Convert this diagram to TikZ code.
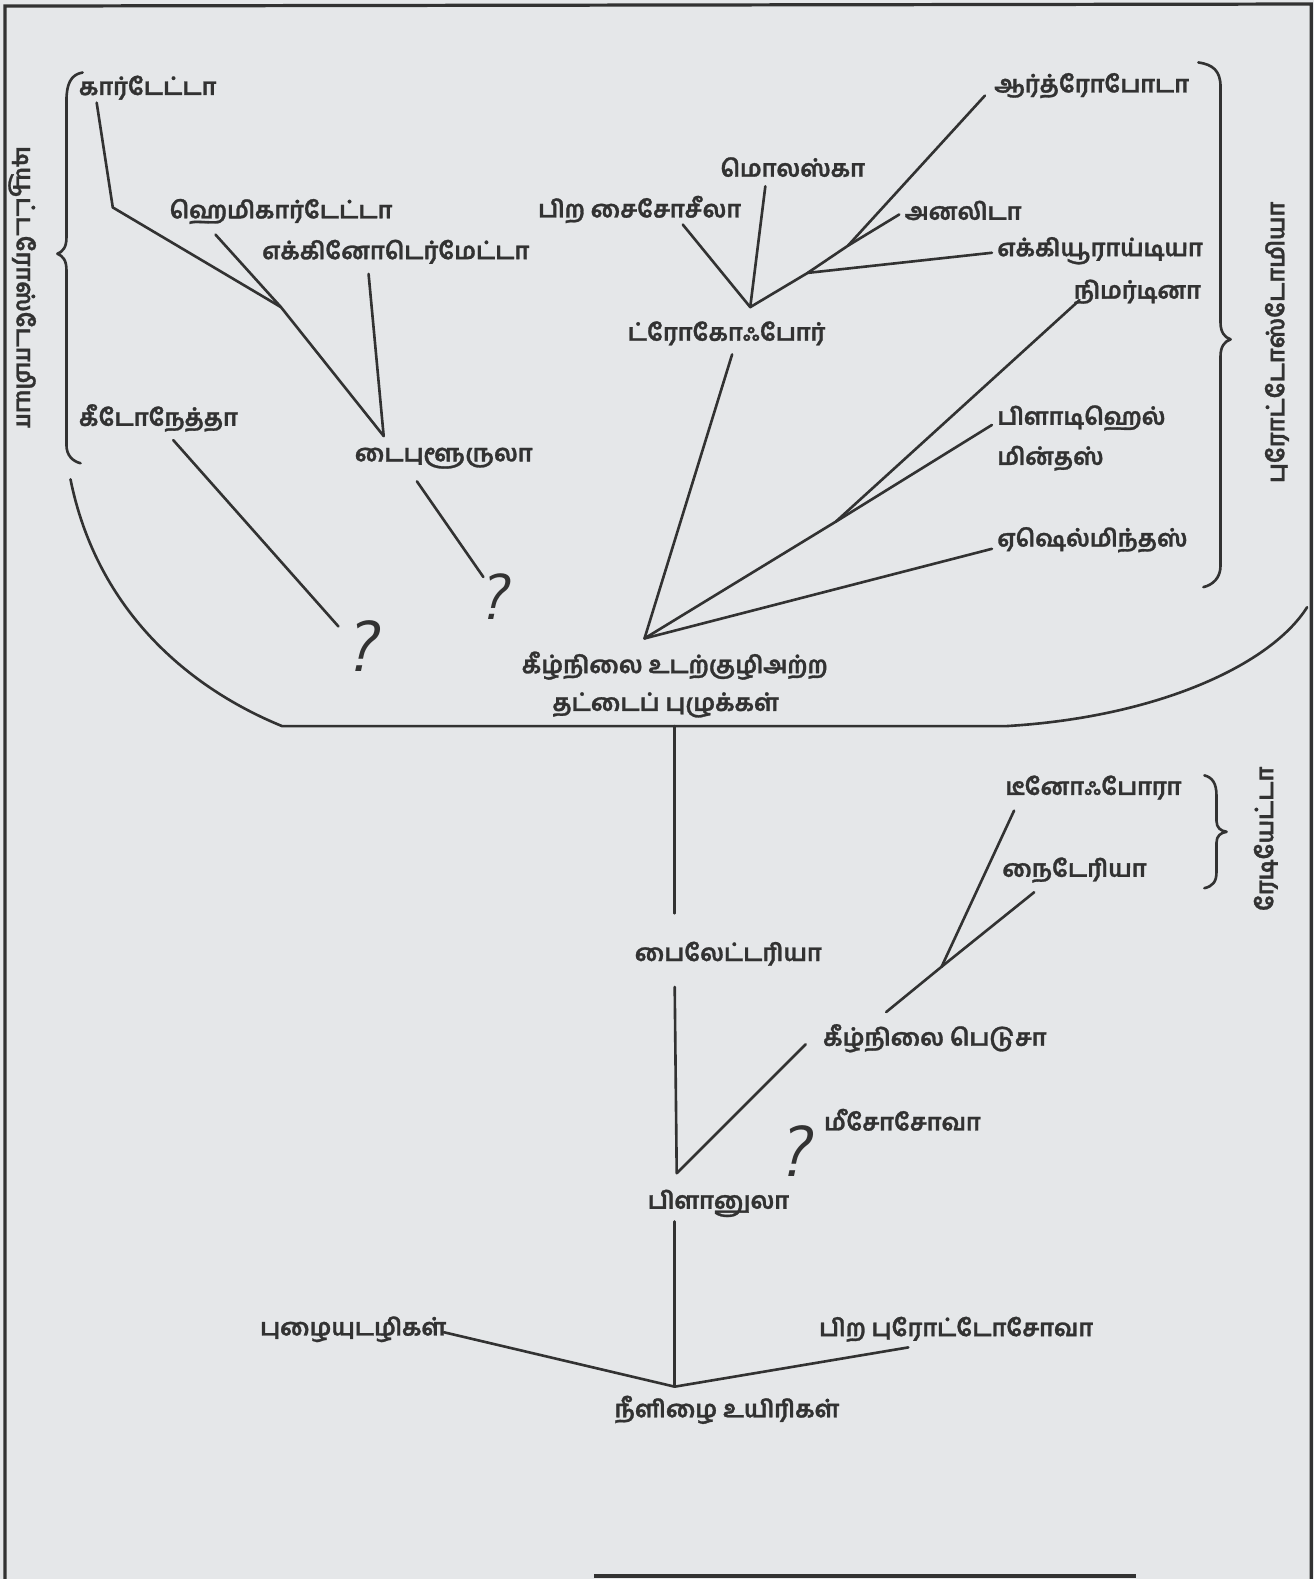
\documentclass[tikz,border=0pt]{standalone}
\usepackage{fontspec}
\newfontfamily\tamil[Script=Tamil,FakeBold=1.2]{Hind Madurai}
\definecolor{bgc}{RGB}{229,231,233}
\definecolor{ink}{RGB}{50,50,50}
\begin{document}
\begin{tikzpicture}[x=0.5pt,y=-0.5pt,
  lab/.style={font=\tamil\bfseries\fontsize{11.8}{14}\selectfont, inner sep=0pt, anchor=west, text=ink},
  labc/.style={lab, anchor=center},
  qm/.style={font=\sffamily\slshape\fontsize{36}{38}\selectfont, inner sep=0pt, text=ink},
  ln/.style={draw=ink, line width=1.3pt, line cap=round, line join=round},
  frame/.style={draw=ink, line width=1.6pt}]
\useasboundingbox (0,0) rectangle (1305,1568);
\fill[bgc] (0,0) rectangle (1305,1568);
% frame
\draw[frame] (5,1568) -- (5,6) -- (1302,4) -- (1302,1568);
\draw[frame] (590,1565) -- (1128,1565);

% ---------- labels ----------
\node[lab] (chor) at (78,87) {கார்டேட்டா};
\node[lab] (hemi) at (168,210) {ஹெமிகார்டேட்டா};
\node[lab] (echi) at (260,250) {எக்கினோடெர்மேட்டா};
\node[lab] (chae) at (78,415) {கீடோநேத்தா};
\node[lab] (dipl) at (352,455) {டைபுளூருலா};
\node[lab] (opsc) at (534,208) {பிற சைசோசீலா};
\node[lab] (moll) at (715,166) {மொலஸ்கா};
\node[lab] (arth) at (987,85) {ஆர்த்ரோபோடா};
\node[lab] (anne) at (898,209) {அனலிடா};
\node[lab] (echu) at (990,249) {எக்கியூராய்டியா};
\node[lab] (neme) at (1066,290) {நிமர்டினா};
\node[lab] (troc) at (623,331) {ட்ரோகோஃபோர்};
\node[lab] (plat) at (990,415) {பிளாடிஹெல்};
\node[lab] (plat2) at (990,455) {மின்தஸ்};
\node[lab] (asch) at (990,536) {ஏஷெல்மிந்தஸ்};
\node[labc] (acoel) at (670,661) {கீழ்நிலை உடற்குழிஅற்ற};
\node[labc] (acoel2) at (661,700) {தட்டைப் புழுக்கள்};
\node[lab] (cten) at (998,782) {டீனோஃபோரா};
\node[lab] (cnid) at (995,864) {நைடேரியா};
\node[lab] (bila) at (630,947) {பைலேட்டரியா};
\node[lab] (lmed) at (817,1031) {கீழ்நிலை பெடுசா};
\node[lab] (meso) at (818,1112) {மீசோசோவா};
\node[lab] (plan) at (643,1195) {பிளானுலா};
\node[lab] (pori) at (258,1320) {புழையுடழிகள்};
\node[lab] (othp) at (813,1320) {பிற புரோட்டோசோவா};
\node[labc] (flag) at (722,1400) {நீளிழை உயிரிகள்};
\node[qm] (q1) at (357,642) {?};
\node[qm,scale=0.9] (q2) at (489,592) {?};
\node[qm] (q3) at (787,1143) {?};
% vertical group labels
\node[labc, rotate=-90] (deut) at (22,285) {டியூட்டரோஸ்டோமியா};
\node[labc, rotate=90] (prot) at (1268,340) {புரோட்டோஸ்டோமியா};
\node[labc, rotate=90] (radi) at (1257,833) {ரேடியேட்டா};

% ---------- coordinates ----------
\coordinate (c1) at (96,102);
\coordinate (c2) at (112,206);
\coordinate (j1) at (279,305);
\coordinate (dv) at (381,433);
\coordinate (h1) at (214,233);
\coordinate (e1) at (366,272);
\coordinate (k1) at (172,437);
\coordinate (k2) at (336,622);
\coordinate (d1) at (414,478);
\coordinate (d2) at (480,573);
\coordinate (base) at (640,634);
\coordinate (tr1) at (727,352);
\coordinate (v) at (745,305);
\coordinate (o1) at (678,223);
\coordinate (m1) at (760,185);
\coordinate (je) at (802,271);
\coordinate (ja) at (842,244);
\coordinate (a1) at (978,95);
\coordinate (an1) at (893,213);
\coordinate (eu1) at (985,251);
\coordinate (jn) at (830,518);
\coordinate (n1) at (1072,298);
\coordinate (p1) at (985,422);
\coordinate (as1) at (985,545);
\coordinate (uL) at (70,476);
\coordinate (uBL) at (280,721);
\coordinate (uBR) at (1000,721);
\coordinate (uR) at (1298,603);
\coordinate (st1) at (670,721);
\coordinate (st2) at (670,907);
\coordinate (pt) at (670,980);
\coordinate (pv) at (672,1165);
\coordinate (lm1) at (800,1037);
\coordinate (lm2) at (880,1005);
\coordinate (jr) at (935,960);
\coordinate (ct1) at (1007,805);
\coordinate (cn1) at (1027,886);
\coordinate (pb) at (670,1213);
\coordinate (fv) at (670,1377);
\coordinate (po1) at (441,1323);
\coordinate (ot1) at (902,1338);

% ---------- connectors ----------
\draw[ln] (c1) -- (c2) -- (j1) -- (dv);
\draw[ln] (h1) -- (j1);
\draw[ln] (e1) -- (dv);
\draw[ln] (k1) -- (k2);
\draw[ln] (d1) -- (d2);
\draw[ln] (tr1) -- (base);
\draw[ln] (o1) -- (v);
\draw[ln] (m1) -- (v);
\draw[ln] (v) -- (je) -- (ja) -- (a1);
\draw[ln] (ja) -- (an1);
\draw[ln] (je) -- (eu1);
\draw[ln] (base) -- (jn) -- (n1);
\draw[ln] (jn) -- (p1);
\draw[ln] (base) -- (as1);
\draw[ln] (uL) .. controls (95,600) and (180,680) .. (uBL) -- (uBR)
      .. controls (1150,712) and (1262,660) .. (uR);
\draw[ln] (st1) -- (st2);
\draw[ln] (pt) -- (pv) -- (lm1);
\draw[ln] (lm2) -- (jr) -- (ct1);
\draw[ln] (jr) -- (cn1);
\draw[ln] (pb) -- (fv);
\draw[ln] (po1) -- (fv) -- (ot1);

% ---------- braces ----------
\draw[ln] (82,72) .. controls (70,74) and (66,84) .. (66,100) -- (66,236)
  .. controls (66,246) and (62,250) .. (57,252)
  .. controls (62,254) and (66,258) .. (66,268) -- (66,442)
  .. controls (66,452) and (72,458) .. (80,460);
\draw[ln] (1190,62) .. controls (1204,64) and (1212,70) .. (1212,86) -- (1212,320)
  .. controls (1212,330) and (1216,335) .. (1222,337)
  .. controls (1216,339) and (1212,344) .. (1212,354) -- (1212,562)
  .. controls (1212,574) and (1204,581) .. (1195,583);
\draw[ln] (1196,770) .. controls (1204,772) and (1208,778) .. (1208,790) -- (1208,815)
  .. controls (1208,822) and (1212,825) .. (1218,826)
  .. controls (1212,827) and (1208,830) .. (1208,837) -- (1208,866)
  .. controls (1208,876) and (1204,880) .. (1196,882);
\end{tikzpicture}
\end{document}
